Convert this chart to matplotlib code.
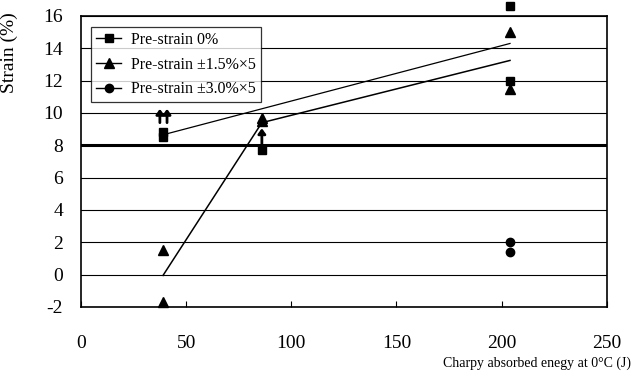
import matplotlib

matplotlib.use("Agg")
import matplotlib.pyplot as plt
from matplotlib.lines import Line2D

plt.rcParams["font.family"] = ["Liberation Serif", "DejaVu Serif"]

# measured points (Charpy energy J, strain %)
energy_0 = [39, 39, 86, 204, 204]
strain_0 = [8.5, 8.8, 7.7, 12.0, 16.6]
energy_15 = [39, 39, 86, 86, 204, 204]
strain_15 = [1.5, -1.7, 9.5, 9.7, 11.5, 15.0]
energy_30 = [204, 204]
strain_30 = [2.0, 1.4]

# trend lines drawn on the chart
trend_0_x = [39, 204]
trend_0_y = [8.65, 14.3]
trend_15_x = [39, 86, 204]
trend_15_y = [-0.05, 9.4, 13.25]

# "not fractured" arrows: x, y start, y end
arrow_x = [37.5, 40.9, 86]
arrow_y0 = [9.4, 9.4, 8.1]
arrow_y1 = [10.25, 10.25, 9.05]

critical_strain = 8
x_ticks = [0, 50, 100, 150, 200, 250]
y_ticks = [-2, 0, 2, 4, 6, 8, 10, 12, 14, 16]
labels = ["Pre-strain 0%", "Pre-strain \u00b11.5%\u00d75", "Pre-strain \u00b13.0%\u00d75"]

fig = plt.figure(figsize=(6.4, 3.78), dpi=100)
ax = fig.add_axes([0.1266, 0.188, 0.8214, 0.7697])

for y in y_ticks:
    ax.axhline(y, color="black", lw=0.8, zorder=1)
ax.axhline(critical_strain, color="black", lw=2.2, zorder=2)

ax.plot(trend_0_x, trend_0_y, color="black", lw=0.9, zorder=3)
ax.plot(trend_15_x, trend_15_y, color="black", lw=1.1, zorder=3)

ax.plot(energy_0, strain_0, ls="none", marker="s", ms=6, color="black", clip_on=False, zorder=4)
ax.plot(energy_15, strain_15, ls="none", marker="^", ms=6.5, color="black", clip_on=False, zorder=4)
ax.plot(energy_30, strain_30, ls="none", marker="o", ms=6, color="black", clip_on=False, zorder=4)

for x, y0, y1 in zip(arrow_x, arrow_y0, arrow_y1):
    ax.annotate("", xy=(x, y1), xytext=(x, y0),
                arrowprops=dict(arrowstyle="-|>,head_width=0.22,head_length=0.3",
                                color="black", lw=2.0, shrinkA=0, shrinkB=0), zorder=5)

ax.set_xlim(0, 250)
ax.set_ylim(-2, 16)
ax.set_xticks(x_ticks)
ax.set_yticks(y_ticks)
ax.set_yticklabels([str(v) for v in y_ticks])
ax.tick_params(axis="x", direction="in", length=4, pad=20, labelsize=14, width=0.8)
ax.tick_params(axis="y", length=0, pad=13, labelsize=14)
for spine in ax.spines.values():
    spine.set_linewidth(1.2)

ax.set_xlabel("Charpy absorbed enegy at 0\u00b0C (J)", fontsize=10)
ax.xaxis.set_label_coords(0.867, -0.17)
ax.set_ylabel("Strain (%)", fontsize=14)
ax.yaxis.set_label_coords(-0.12, 0.875)

handles = [
    Line2D([], [], color="black", lw=1, marker="s", ms=6),
    Line2D([], [], color="black", lw=1, marker="^", ms=6.5),
    Line2D([], [], color="black", lw=1, marker="o", ms=6),
]
leg = ax.legend(handles, labels, loc="upper left", bbox_to_anchor=(0.019, 0.962),
                fontsize=11.5, frameon=True, fancybox=False, borderpad=0.3,
                labelspacing=0.55, handlelength=1.6, handletextpad=0.6, borderaxespad=0)
leg.get_frame().set_edgecolor("black")
leg.get_frame().set_linewidth(0.9)
leg.set_zorder(6)

fig.savefig("out.png", dpi=100)
